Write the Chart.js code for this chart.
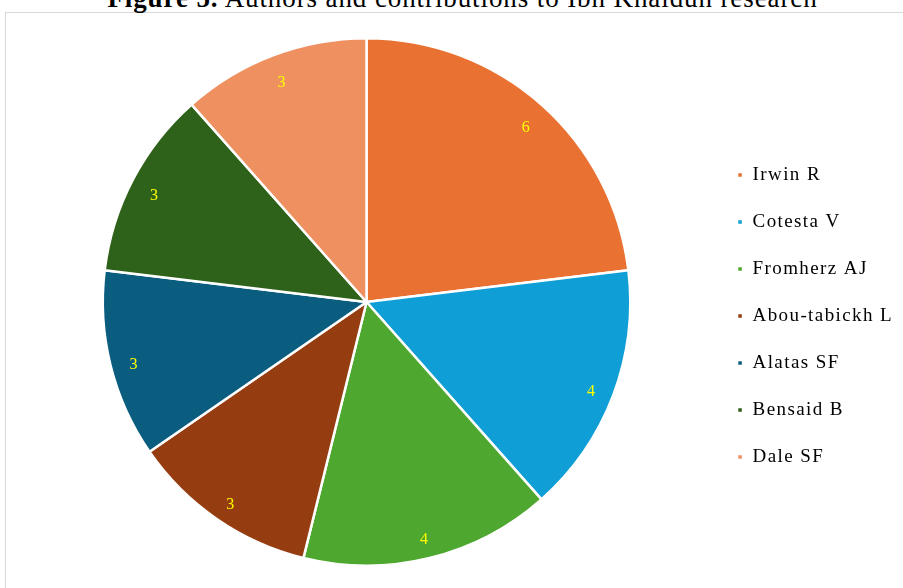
<!DOCTYPE html>
<html>
<head>
<meta charset="utf-8">
<script src="https://cdn.jsdelivr.net/npm/chart.js@4/dist/chart.umd.min.js"></script>
<style>
  html, body { margin: 0; padding: 0; background: #fff; }
  #wrap { position: relative; width: 903px; height: 588px; overflow: hidden; background: #fff; }
  #frame { position: absolute; left: 5px; top: 12px; width: 1000px; height: 700px;
           border: 1.5px solid #d9d9d9; box-sizing: border-box; }
  #title { position: absolute; left: 0; width: 925px; top: -15px; text-align: center;
           font-family: "Liberation Serif", "Times New Roman", serif; font-size: 27px;
           letter-spacing: 0.9px; line-height: 27px; color: #000; white-space: nowrap; }
  #title b { font-weight: bold; }
  canvas { position: absolute; left: 0; top: 0; }
</style>
</head>
<body>
<div id="wrap">
  <div id="frame"></div>
  <div id="title"><b>Figure 5.</b> Authors and contributions to Ibn Khaldun research</div>
  <canvas id="pie" width="903" height="588"></canvas>
</div>
<script>
var authors = ['Irwin R', 'Cotesta V', 'Fromherz AJ', 'Abou-tabickh L', 'Alatas SF', 'Bensaid B', 'Dale SF'];
var papers = [6, 4, 4, 3, 3, 3, 3];
var colores = ['#E97132', '#0F9ED5', '#4EA72E', '#963C11', '#0B5D80', '#2E6119', '#EE9060'];

// wider tracking for the legend text
const spacing = {
  id: 'spacing',
  beforeLayout(chart) { chart.ctx.letterSpacing = '1.4px'; },
  beforeDraw(chart) { chart.ctx.letterSpacing = '1.4px'; }
};

// puts the value of each slice near its outer edge
const valueLabels = {
  id: 'valueLabels',
  afterDatasetsDraw(chart) {
    const ctx = chart.ctx;
    const meta = chart.getDatasetMeta(0);
    ctx.save();
    ctx.letterSpacing = '0px';
    ctx.font = '16px "Liberation Serif", serif';
    ctx.fillStyle = '#FFFF00';
    ctx.textAlign = 'center';
    ctx.textBaseline = 'middle';
    meta.data.forEach(function (arc, k) {
      var p = arc.getProps(['x', 'y', 'startAngle', 'endAngle', 'outerRadius'], true);
      var mid = (p.startAngle + p.endAngle) / 2;
      var r = p.outerRadius * 0.91;
      ctx.fillText(String(papers[k]), p.x + Math.cos(mid) * r, p.y + Math.sin(mid) * r + 5);
    });
    ctx.restore();
  }
};

const ctx = document.getElementById('pie').getContext('2d');
const pieChart = new Chart(ctx, {
  type: 'pie',
  data: {
    labels: authors,
    datasets: [{
      data: papers,
      backgroundColor: colores,
      borderColor: '#ffffff',
      borderWidth: 2.5
    }]
  },
  options: {
    responsive: false,
    animation: false,
    layout: { padding: { top: 37, bottom: 21, left: 24, right: 0 } },
    plugins: {
      tooltip: { enabled: false },
      legend: {
        position: 'right',
        title: { display: true, text: ' ', font: { size: 20, lineHeight: 1.4 }, padding: 0 },
        labels: {
          boxWidth: 6,
          boxHeight: 6,
          padding: 28,
          color: '#000',
          font: { family: '"Liberation Serif", serif', size: 19 }
        }
      }
    }
  },
  plugins: [spacing, valueLabels]
});
</script>
</body>
</html>
